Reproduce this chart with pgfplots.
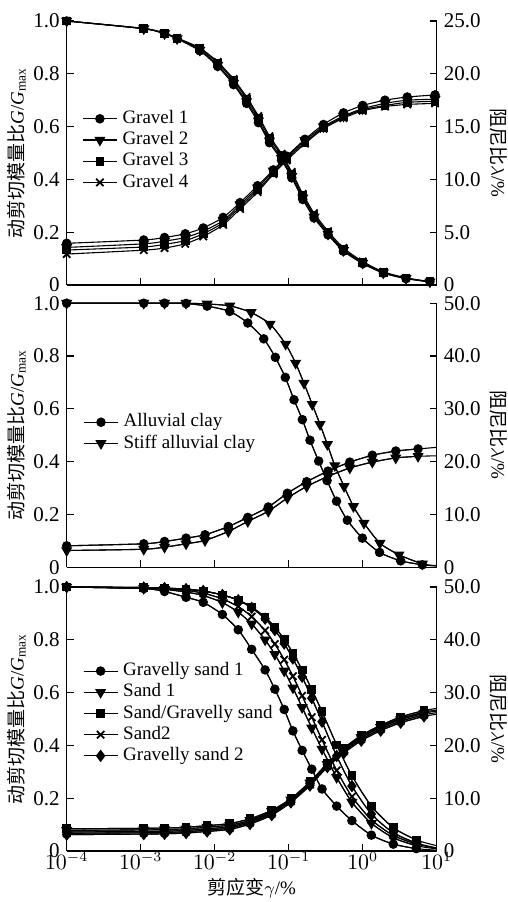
\documentclass[border=0pt]{standalone}
\usepackage{fontspec}
\setmainfont{Liberation Serif}
\newfontfamily\cjk{Noto Sans CJK SC}
\usepackage{pgfplots}
\usepackage{pgfplotstable}
\pgfplotsset{compat=1.18}

\pgfplotstableread{
x g1 g2 g3 g4
0.0001 1.0 1.0 1.0 1.0
0.0011 0.971 0.971 0.971 0.972
0.0021 0.952 0.952 0.953 0.954
0.0031 0.933 0.933 0.934 0.936
0.0063 0.887 0.890 0.895 0.898
0.011 0.828 0.833 0.840 0.845
0.018 0.759 0.765 0.774 0.780
0.027 0.688 0.695 0.705 0.712
0.039 0.615 0.622 0.632 0.640
0.055 0.539 0.546 0.556 0.564
0.08 0.473 0.480 0.490 0.497
0.11 0.406 0.412 0.420 0.428
0.155 0.324 0.330 0.338 0.345
0.22 0.254 0.258 0.265 0.272
0.34 0.190 0.193 0.198 0.204
0.55 0.128 0.131 0.135 0.140
1.0 0.081 0.083 0.085 0.089
1.9 0.045 0.046 0.048 0.050
3.85 0.024 0.025 0.026 0.027
8.1 0.012 0.012 0.012 0.013
}\gravelG

\pgfplotstableread{
x d1 d2 d3 d4
0.0001 3.95 3.56 3.31 2.93
0.0011 4.26 3.9 3.6 3.3
0.0021 4.5 4.15 3.85 3.5
0.004 4.85 4.5 4.2 3.9
0.007 5.4 5.1 4.85 4.6
0.013 6.4 6.1 5.9 5.7
0.022 7.8 7.6 7.4 7.2
0.038 9.4 9.2 9.0 8.8
0.062 10.9 10.8 10.6 10.5
0.094 12.2 12.1 12.0 11.8
0.166 13.8 13.7 13.5 13.4
0.295 15.2 15.0 14.9 14.8
0.55 16.3 16.0 15.9 15.8
1.0 17.0 16.7 16.6 16.5
2.0 17.5 17.2 17.0 16.9
4.0 17.8 17.5 17.3 17.1
9.5 18.0 17.6 17.4 17.2
}\gravelD

\pgfplotstableread{
x g
0.0001 1.0
0.0011 1.0
0.0021 1.0
0.0041 0.999
0.0079 0.989
0.016 0.969
0.028 0.925
0.046 0.865
0.066 0.795
0.090 0.719
0.118 0.634
0.153 0.559
0.194 0.481
0.254 0.402
0.33 0.328
0.443 0.25
0.62 0.178
0.99 0.11
1.69 0.056
3.26 0.024
6.4 0.009
10 0.004
}\clayG

\pgfplotstableread{
x g
0.0001 1.0
0.0011 1.0
0.0021 1.0
0.0041 1.0
0.0079 0.997
0.016 0.99
0.031 0.965
0.056 0.921
0.091 0.845
0.124 0.773
0.161 0.697
0.208 0.617
0.265 0.541
0.333 0.465
0.42 0.385
0.56 0.306
0.75 0.230
1.04 0.167
1.71 0.091
3.09 0.047
6.4 0.0125
10 0.006
}\stiffG

\pgfplotstableread{
x a s
0.0001 4.05 3.16
0.0011 4.43 3.4
0.0021 4.87 3.8
0.0041 5.5 4.43
0.0074 6.14 5.06
0.0153 7.7 6.77
0.028 9.43 8.67
0.053 11.4 10.6
0.096 14.0 13.1
0.175 16.2 15.3
0.34 18.2 17.2
0.67 19.9 18.8
1.35 21.2 19.9
2.8 22.0 20.7
5.6 22.4 21.0
10 22.7 21.1
}\clayD

\pgfplotstableread{
x gs1 s1 sg s2 gs2
0.0001 1.0 1.0 1.0 1.0 1.0
0.0011 0.994 0.995 0.998 0.997 0.998
0.0021 0.983 0.991 0.996 0.994 0.996
0.0041 0.961 0.981 0.991 0.987 0.992
0.007 0.942 0.968 0.985 0.977 0.985
0.0127 0.896 0.941 0.970 0.955 0.970
0.0208 0.838 0.905 0.951 0.926 0.950
0.0316 0.764 0.860 0.924 0.888 0.921
0.048 0.686 0.800 0.886 0.835 0.880
0.065 0.613 0.745 0.848 0.784 0.837
0.087 0.536 0.682 0.802 0.725 0.786
0.114 0.455 0.618 0.750 0.662 0.729
0.152 0.381 0.544 0.686 0.588 0.660
0.205 0.310 0.466 0.612 0.507 0.579
0.282 0.235 0.386 0.528 0.421 0.490
0.445 0.170 0.279 0.402 0.305 0.360
0.715 0.115 0.185 0.285 0.206 0.246
1.31 0.060 0.105 0.170 0.118 0.140
2.59 0.026 0.050 0.088 0.059 0.069
5.3 0.009 0.020 0.042 0.026 0.030
10 0.003 0.008 0.020 0.010 0.012
}\sandG

\pgfplotstableread{
x gs1 s1 sg s2 gs2
0.0001 3.6 3.9 4.2 3.35 3.1
0.0011 3.7 4.0 4.3 3.45 3.2
0.0021 3.75 4.05 4.35 3.5 3.25
0.0041 3.9 4.2 4.5 3.65 3.4
0.0079 4.2 4.5 4.8 3.95 3.7
0.016 4.6 4.9 5.2 4.35 4.1
0.03 5.6 5.8 6.1 5.35 5.1
0.059 7.3 7.5 7.7 7.05 6.8
0.107 9.6 9.7 9.9 9.4 9.2
0.194 12.8 12.9 13.1 12.6 12.4
0.333 16.4 16.4 16.6 16.1 15.9
0.559 19.3 19.2 19.5 18.9 18.6
0.957 21.7 21.5 21.9 21.2 20.9
1.75 23.6 23.4 23.8 23.1 22.8
3.26 25.1 24.9 25.4 24.6 24.3
6.74 26.3 26.1 26.6 25.8 25.5
10 26.7 26.5 27.0 26.2 25.9
}\sandD

\pgfplotsset{
  mkA/.style={mark=*, mark size=2.1pt},
  mkB/.style={mark=triangle*, mark size=2.7pt, mark options={rotate=180}},
  mkC/.style={mark=square*, mark size=1.9pt},
  mkD/.style={mark=x, mark size=2.6pt, mark options={line width=0.9pt}},
  mkE/.style={mark=diamond*, mark size=2.7pt},
  tailA/.style={forget plot, no markers},
  every axis plot/.append style={black, line width=0.55pt, smooth, tension=0.4},
  commonopts/.style={scale only axis, width=185pt, height=132pt,
    xmin=1e-4, xmax=10,
    xtick={1e-4,1e-3,1e-2,1e-1,1,10},
    xminorticks=false, yminorticks=false,
    tick align=inside, major tick length=3.5pt,
    clip=false,
    axis line style={line width=0.6pt},
    every tick/.append style={line width=0.6pt, black},
    tick label style={font=\fontsize{10.5}{12}\selectfont},
    xticklabel style={yshift=3pt},
    label style={font=\fontsize{9.5}{11}\selectfont}},
  panelL/.style={commonopts,
    axis x line*=bottom, axis y line*=left,
    ymin=0, ymax=1, ytick={0,0.2,0.4,0.6,0.8,1},
    yticklabels={0,0.2,0.4,0.6,0.8,1.0},
    ylabel={{\cjk 动剪切模量比}\textit{G}/\textit{G}\textsubscript{max}},
    ylabel style={at={(axis description cs:-0.135,0.5)}, anchor=center},
    legend cell align=left,
    legend style={draw=none, fill=none, anchor=west, inner sep=0pt,
      font=\fontsize{9.5}{11}\selectfont, row sep=1.7pt, column sep=2.5pt,
      nodes={inner sep=0pt, text height=6.8pt, text depth=2.1pt}},
  },
  panelR/.style={commonopts,
    axis x line=none, axis y line*=right,
    ymin=0,
    ylabel={{\cjk 阻尼比}$\lambda$/\%},
    ylabel style={at={(axis description cs:1.168,0.5)}, anchor=center, rotate=180},
  },
}

\begin{document}
\begin{tikzpicture}
% ---------------- top panel ----------------
\begin{semilogxaxis}[panelL, at={(0pt,283pt)}, xticklabels={},
  legend style={at={(axis description cs:0.041,0.509)}}]
\addplot[mkA] table[x=x,y=g1]{\gravelG};
\addlegendentry{Gravel 1}
\addplot[mkB] table[x=x,y=g2]{\gravelG};
\addlegendentry{Gravel 2}
\addplot[mkC] table[x=x,y=g3]{\gravelG};
\addlegendentry{Gravel 3}
\addplot[mkD] table[x=x,y=g4]{\gravelG};
\addlegendentry{Gravel 4}
\end{semilogxaxis}
\begin{semilogxaxis}[panelR, at={(0pt,283pt)}, ymax=25, ytick={0,5,10,15,20,25},
  yticklabels={0,5.0,10.0,15.0,20.0,25.0}]
\addplot[mkA] table[x=x,y=d1]{\gravelD};
\addplot[mkB] table[x=x,y=d2]{\gravelD};
\addplot[mkC] table[x=x,y=d3]{\gravelD};
\addplot[mkD] table[x=x,y=d4]{\gravelD};
\end{semilogxaxis}
% ---------------- middle panel ----------------
\begin{semilogxaxis}[panelL, at={(0pt,141.9pt)}, xticklabels={},
  legend style={at={(axis description cs:0.044,0.509)}}]
\addplot[tailA] table[x=x,y=g]{\clayG};
\addplot[tailA] table[x=x,y=g]{\stiffG};
\addplot[mkA, skip coords between index={21}{22}] table[x=x,y=g]{\clayG};
\addlegendentry{Alluvial clay}
\addplot[mkB, skip coords between index={21}{22}] table[x=x,y=g]{\stiffG};
\addlegendentry{Stiff alluvial clay}
\end{semilogxaxis}
\begin{semilogxaxis}[panelR, at={(0pt,141.9pt)}, ymax=50, ytick={0,10,20,30,40,50},
  yticklabels={0,10.0,20.0,30.0,40.0,50.0}]
\addplot[tailA] table[x=x,y=a]{\clayD};
\addplot[tailA] table[x=x,y=s]{\clayD};
\addplot[mkA, skip coords between index={15}{16}] table[x=x,y=a]{\clayD};
\addplot[mkB, skip coords between index={15}{16}] table[x=x,y=s]{\clayD};
\end{semilogxaxis}
% ---------------- bottom panel ----------------
\begin{semilogxaxis}[panelL, at={(0pt,0pt)},
  xlabel={{\cjk 剪应变}$\gamma$/\%},
  xlabel style={at={(axis description cs:0.5,-0.142)}, anchor=center},
  legend style={at={(axis description cs:0.043,0.521)}}]
\addplot[tailA] table[x=x,y=gs1]{\sandG};
\addplot[tailA] table[x=x,y=s1]{\sandG};
\addplot[tailA] table[x=x,y=sg]{\sandG};
\addplot[tailA] table[x=x,y=s2]{\sandG};
\addplot[tailA] table[x=x,y=gs2]{\sandG};
\addplot[mkA, skip coords between index={20}{21}] table[x=x,y=gs1]{\sandG};
\addlegendentry{Gravelly sand 1}
\addplot[mkB, skip coords between index={20}{21}] table[x=x,y=s1]{\sandG};
\addlegendentry{Sand 1}
\addplot[mkC, skip coords between index={20}{21}] table[x=x,y=sg]{\sandG};
\addlegendentry{Sand/Gravelly sand}
\addplot[mkD, skip coords between index={20}{21}] table[x=x,y=s2]{\sandG};
\addlegendentry{Sand2}
\addplot[mkE, skip coords between index={20}{21}] table[x=x,y=gs2]{\sandG};
\addlegendentry{Gravelly sand 2}
\end{semilogxaxis}
\begin{semilogxaxis}[panelR, at={(0pt,0pt)}, ymax=50, ytick={0,10,20,30,40,50},
  yticklabels={0,10.0,20.0,30.0,40.0,50.0}]
\addplot[tailA] table[x=x,y=gs1]{\sandD};
\addplot[tailA] table[x=x,y=s1]{\sandD};
\addplot[tailA] table[x=x,y=sg]{\sandD};
\addplot[tailA] table[x=x,y=s2]{\sandD};
\addplot[tailA] table[x=x,y=gs2]{\sandD};
\addplot[mkA, skip coords between index={16}{17}] table[x=x,y=gs1]{\sandD};
\addplot[mkB, skip coords between index={16}{17}] table[x=x,y=s1]{\sandD};
\addplot[mkC, skip coords between index={16}{17}] table[x=x,y=sg]{\sandD};
\addplot[mkD, skip coords between index={16}{17}] table[x=x,y=s2]{\sandD};
\addplot[mkE, skip coords between index={16}{17}] table[x=x,y=gs2]{\sandD};
\end{semilogxaxis}
\pgfresetboundingbox
\path[use as bounding box] (-33.35pt,-25.5pt) rectangle (220.65pt,425.5pt);
\end{tikzpicture}
\end{document}
